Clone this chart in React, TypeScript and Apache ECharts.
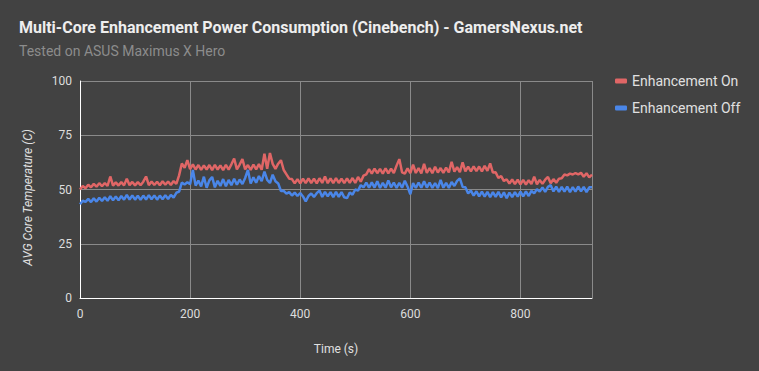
import React, { useEffect, useRef } from "react";
import * as echarts from "echarts";

const TITLE = "Multi-Core Enhancement Power Consumption (Cinebench) - GamersNexus.net";
const SUBTITLE = "Tested on ASUS Maximus X Hero";
const SERIES_NAMES = ["Enhancement On", "Enhancement Off"];
const X_NAME = "Time (s)";
const Y_NAME = "AVG Core Temperature (C)";
const Y_TICKS = [0, 25, 50, 75, 100];
const X_TICKS = [0, 200, 400, 600, 800];
const SAMPLE_STEP_S = 5; // one reading every 5 s, starting at 0 s

// Enhancement On, 0 s .. 930 s
const enhancementOn = [
  50.0, 51.6, 50.6, 52.2, 51.0, 52.6, 51.3, 52.9, 51.5, 53.0,
  51.6, 56.0, 51.8, 53.3, 51.8, 53.4, 51.9, 55.0, 52.0, 53.5,
  51.9, 53.4, 52.0, 53.6, 56.0, 52.0, 53.7, 52.1, 53.6, 52.0,
  53.8, 52.2, 53.7, 52.1, 53.9, 52.6, 56.5, 62.0, 60.0, 63.5,
  59.4, 61.6, 59.2, 61.3, 59.0, 61.1, 59.2, 61.3, 58.9, 61.4,
  59.2, 61.1, 58.9, 61.4, 59.1, 61.6, 64.3, 59.3, 61.5, 64.0,
  59.3, 61.3, 59.0, 61.5, 59.3, 61.7, 59.1, 66.5, 59.6, 66.8,
  61.8, 59.5, 61.9, 63.5, 59.0, 57.0, 55.0, 54.8, 52.8, 54.8,
  52.8, 55.0, 52.9, 55.1, 53.0, 55.0, 52.8, 55.2, 53.0, 56.0,
  52.9, 55.1, 52.9, 55.2, 53.0, 55.0, 52.9, 55.1, 53.1, 55.3,
  53.0, 55.8, 53.6, 56.4, 57.0, 59.4, 57.3, 59.6, 57.5, 59.5,
  57.3, 59.8, 57.4, 59.6, 57.6, 61.0, 64.0, 57.9, 57.3, 59.7,
  57.5, 61.5, 57.6, 59.9, 57.4, 61.8, 57.6, 59.9, 57.5, 60.5,
  57.8, 59.9, 57.7, 60.1, 57.9, 62.8, 58.2, 60.3, 58.0, 62.5,
  58.4, 60.5, 58.3, 60.7, 58.5, 60.6, 58.3, 60.9, 58.6, 62.0,
  57.8, 57.9, 55.3, 56.2, 53.9, 54.7, 52.7, 54.6, 52.5, 54.5,
  52.4, 54.4, 52.3, 54.3, 52.5, 55.9, 52.4, 54.4, 52.6, 54.5,
  55.8, 52.9, 54.8, 53.1, 55.0, 55.2, 56.9, 56.5, 57.3, 56.9,
  57.6, 57.0, 57.7, 55.9, 57.5, 55.6, 56.9,
];

// Enhancement Off, 0 s .. 930 s
const enhancementOff = [
  43.2, 44.8, 44.3, 45.7, 44.2, 46.0, 44.4, 46.2, 44.7, 46.4,
  44.8, 46.9, 45.0, 46.8, 45.0, 47.0, 45.3, 47.5, 45.4, 47.3,
  45.3, 47.1, 45.2, 47.2, 45.4, 47.4, 45.5, 47.3, 45.3, 47.2,
  45.5, 47.4, 45.6, 47.5, 46.3, 48.5, 49.0, 53.2, 52.3, 53.3,
  52.4, 59.0, 51.8, 54.1, 51.4, 55.9, 50.8, 54.2, 55.8, 51.0,
  54.0, 51.6, 54.8, 51.5, 54.4, 52.0, 55.0, 52.2, 54.6, 52.5,
  55.3, 59.0, 52.8, 55.6, 53.1, 56.2, 53.8, 58.2, 54.4, 53.0,
  56.8, 53.8, 52.8, 49.3, 49.4, 48.1, 48.8, 47.2, 48.6, 47.0,
  48.4, 46.8, 44.5, 47.0, 48.2, 46.6, 48.3, 49.5, 46.6, 48.9,
  46.8, 48.8, 46.5, 48.9, 46.6, 48.8, 46.4, 46.0, 48.6, 47.6,
  50.0, 49.5, 52.0, 51.0, 53.2, 50.8, 53.3, 50.9, 53.8, 50.7,
  53.1, 50.8, 54.2, 51.0, 53.2, 50.7, 53.1, 50.8, 54.0, 51.3,
  47.8, 53.0, 50.7, 53.2, 50.8, 53.8, 50.9, 53.2, 50.7, 53.0,
  50.6, 54.4, 50.8, 53.1, 50.7, 53.5, 51.6, 54.0, 55.1, 51.2,
  51.0, 48.2, 49.5, 47.2, 49.2, 46.8, 49.0, 46.7, 48.9, 46.5,
  48.8, 46.6, 48.9, 46.4, 48.7, 46.0, 48.6, 46.5, 48.8, 46.7,
  49.0, 46.8, 49.1, 47.0, 49.4, 48.2, 50.2, 49.0, 51.0, 48.9,
  51.2, 52.0, 49.1, 51.3, 48.9, 51.2, 49.0, 51.3, 48.8, 51.1,
  49.0, 51.4, 49.1, 51.2, 48.8, 51.0, 51.0,
];

const COLORS = ["#e06666", "#4a86e8"];
const FONT = "Roboto";

function toPoints(values: number[]) {
  return values.map((v, i) => [i * SAMPLE_STEP_S, v]);
}

export default function App() {
  const ref = useRef<HTMLDivElement>(null);
  useEffect(() => {
    if (!ref.current) return;
    const chart = echarts.init(ref.current, undefined, { renderer: "svg" });
    const xMax = (enhancementOn.length - 1) * SAMPLE_STEP_S;
    chart.setOption({
      animation: false,
      backgroundColor: "#424242",
      textStyle: { fontFamily: FONT },
      title: {
        text: TITLE,
        subtext: SUBTITLE,
        left: 14,
        top: 14,
        itemGap: 9,
        textStyle: { color: "#eeeeee", fontSize: 16, fontWeight: "bold", fontFamily: FONT },
        subtextStyle: { color: "#8c8c8c", fontSize: 14, fontFamily: FONT },
      },
      legend: {
        orient: "vertical",
        left: 610,
        top: 69,
        itemWidth: 12,
        itemHeight: 5,
        itemGap: 13,
        icon: "roundRect",
        textStyle: { color: "#e0e0e0", fontSize: 14, fontFamily: FONT },
        data: SERIES_NAMES,
      },
      grid: { left: 80, right: 167, top: 81, bottom: 73, containLabel: false },
      xAxis: {
        type: "value",
        min: X_TICKS[0],
        max: xMax,
        interval: X_TICKS[1] - X_TICKS[0],
        name: X_NAME,
        nameLocation: "middle",
        nameGap: 45,
        nameTextStyle: { color: "#e0e0e0", fontSize: 12 },
        axisLine: { show: true, lineStyle: { color: "#ffffff", width: 1 } },
        axisTick: { show: false },
        splitLine: { show: true, lineStyle: { color: "#8a8a8a", width: 1 } },
        axisLabel: { color: "#dddddd", fontSize: 12, margin: 10, showMaxLabel: false },
      },
      yAxis: {
        type: "value",
        min: Y_TICKS[0],
        max: Y_TICKS[Y_TICKS.length - 1],
        interval: Y_TICKS[1] - Y_TICKS[0],
        name: Y_NAME,
        nameLocation: "middle",
        nameGap: 46,
        nameTextStyle: { color: "#e0e0e0", fontSize: 12, fontStyle: "italic", padding: [0, 16, 0, 0] },
        axisLine: { show: true, lineStyle: { color: "#ffffff", width: 1 } },
        axisTick: { show: false },
        splitLine: { show: true, lineStyle: { color: "#8a8a8a", width: 1 } },
        axisLabel: { color: "#dddddd", fontSize: 12, margin: 8 },
      },
      series: [
        {
          name: SERIES_NAMES[0],
          type: "line",
          data: toPoints(enhancementOn),
          showSymbol: false,
          symbol: "none",
          lineStyle: { color: COLORS[0], width: 2.5 },
          itemStyle: { color: COLORS[0] },
        },
        {
          name: SERIES_NAMES[1],
          type: "line",
          data: toPoints(enhancementOff),
          showSymbol: false,
          symbol: "none",
          lineStyle: { color: COLORS[1], width: 2.5 },
          itemStyle: { color: COLORS[1] },
        },
      ],
    });
    return () => chart.dispose();
  }, []);
  return <div ref={ref} style={{ width: 759, height: 371, position: "absolute", left: 0, top: 0 }} />;
}
